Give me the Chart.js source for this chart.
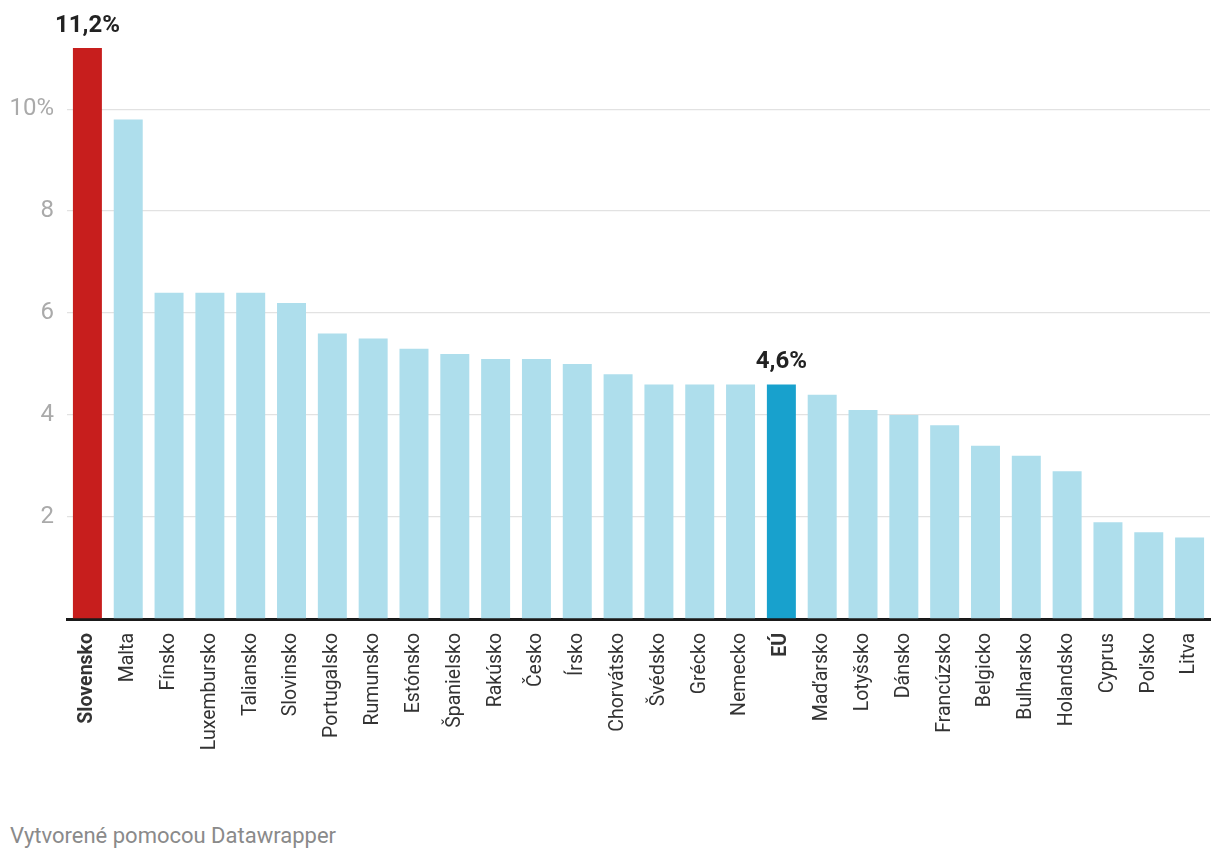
<!DOCTYPE html>
<html>
<head>
<meta charset="utf-8">
<script src="https://cdn.jsdelivr.net/npm/chart.js@4/dist/chart.umd.min.js"></script>
<style>
	body { margin: 0; background: #fff; font-family: Roboto, sans-serif; }
	#wrap { position: relative; width: 1220px; height: 860px; }
	#footer { position: absolute; left: 10px; top: 823px; font-size: 22px; color: #8a8a8a; }
</style>
</head>
<body>
<div id="wrap">
	<canvas id="chart" width="1220" height="800"></canvas>
	<div id="footer">Vytvorené pomocou Datawrapper</div>
</div>
<script>
// countries, sorted as in the picture
var countries = ['Slovensko','Malta','Fínsko','Luxembursko','Taliansko','Slovinsko','Portugalsko','Rumunsko','Estónsko','Španielsko','Rakúsko','Česko','Írsko','Chorvátsko','Švédsko','Grécko','Nemecko','EÚ','Maďarsko','Lotyšsko','Dánsko','Francúzsko','Belgicko','Bulharsko','Holandsko','Cyprus','Poľsko','Litva'];
var values = [11.2,9.8,6.4,6.4,6.4,6.2,5.6,5.5,5.3,5.2,5.1,5.1,5.0,4.8,4.6,4.6,4.6,4.6,4.4,4.1,4.0,3.8,3.4,3.2,2.9,1.9,1.7,1.6];
var yTicks = [0,2,4,6,8,10];
// bars that get a value label and a bold name
var highlighted = ['Slovensko','EÚ'];

var colors = countries.map(function(c){
	if(c === 'Slovensko') return '#c71e1d';
	if(c === 'EÚ') return '#18a1cd';
	return '#aedeec';
});

var valueLabels = {
	id: 'valueLabels',
	afterDatasetsDraw: function(chart){
		var ctx = chart.ctx;
		var meta = chart.getDatasetMeta(0);
		ctx.save();
		ctx.font = 'bold 24px Roboto';
		ctx.fillStyle = '#222';
		ctx.textAlign = 'center';
		ctx.textBaseline = 'alphabetic';
		highlighted.forEach(function(name){
			var i = countries.indexOf(name);
			var bar = meta.data[i];
			var txt = values[i].toFixed(1).replace('.', ',') + '%';
			ctx.fillText(txt, bar.x, bar.y - 16);
		});
		ctx.restore();
	}
};

new Chart(document.getElementById('chart'), {
	type: 'bar',
	data: {
		labels: countries,
		datasets: [{
			data: values,
			backgroundColor: colors,
			barPercentage: 0.71,
			categoryPercentage: 1
		}]
	},
	options: {
		responsive: false,
		animation: false,
		layout: { padding: { top: 48, right: 10, left: 0, bottom: 0 } },
		plugins: { legend: { display: false }, tooltip: { enabled: false } },
		scales: {
			x: {
				grid: { display: false, drawTicks: false },
				border: { color: '#1a1a1a', width: 3 },
				ticks: {
					autoSkip: false,
					minRotation: 90,
					maxRotation: 90,
					padding: 14,
					color: '#333',
					font: function(c){
						var bold = highlighted.indexOf(countries[c.index]) >= 0;
						return { family: 'Roboto', size: 19.5, weight: bold ? 'bold' : 'normal' };
					}
				},
				afterFit: function(scale){
					scale.height = 181;
					scale.paddingLeft = 0;
					scale.paddingRight = 0;
				}
			},
			y: {
				min: 0,
				max: 11.2,
				afterBuildTicks: function(scale){
					scale.ticks = yTicks.map(function(v){ return { value: v }; });
				},
				afterFit: function(scale){ scale.width = 67; },
				border: { display: false },
				grid: {
					drawTicks: false,
					lineWidth: 1.3,
					color: function(c){ return c.tick && c.tick.value === 0 ? 'rgba(0,0,0,0)' : '#e2e2e2'; }
				},
				ticks: {
					padding: 13,
					color: '#aaa',
					font: { family: 'Roboto', size: 24 },
					callback: function(v){
						if(v === 0) return '';
						if(v === 10) return '10%';
						return v;
					}
				}
			}
		}
	},
	plugins: [valueLabels]
});
</script>
</body>
</html>
